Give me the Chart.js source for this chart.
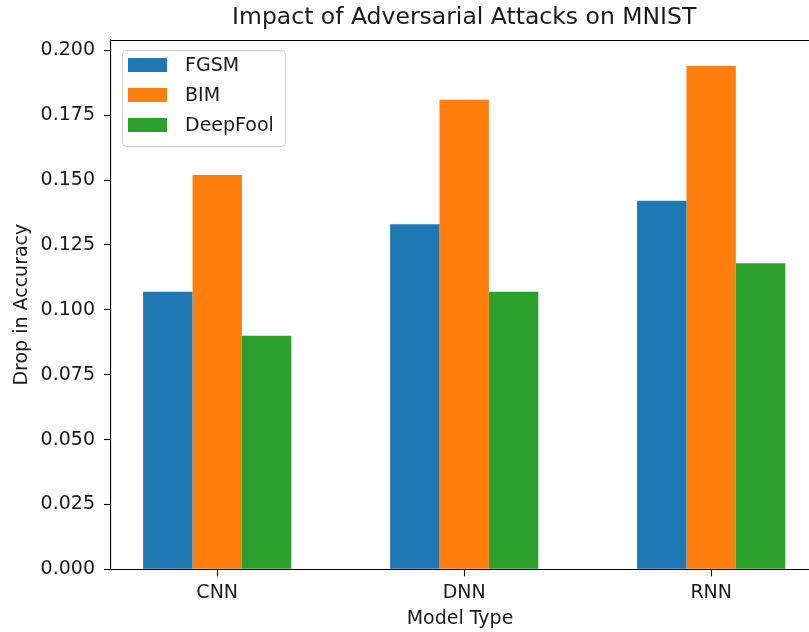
<!DOCTYPE html>
<html>
<head>
<meta charset="utf-8">
<title>Impact of Adversarial Attacks on MNIST</title>
<script src="https://cdn.jsdelivr.net/npm/chart.js@4.4.1/dist/chart.umd.min.js"></script>
<style>
  html, body { margin: 0; padding: 0; background: #ffffff; overflow: hidden; }
  #wrap { width: 809px; height: 632px; }
</style>
</head>
<body>
<div id="wrap"><canvas id="chart" width="809" height="632"></canvas></div>
<script>
// Model types on the x axis
const categories = ['CNN', 'DNN', 'RNN'];
// Drop in accuracy per attack
const fgsm = [0.107, 0.133, 0.142];
const bim = [0.152, 0.181, 0.194];
const deepFool = [0.090, 0.107, 0.118];
// Y tick values
const yTicks = [0, 0.025, 0.05, 0.075, 0.1, 0.125, 0.15, 0.175, 0.2];

const FONT = '"DejaVu Sans", "Liberation Sans", sans-serif';
const TEXT = '#1a1a1a';
const LABEL_SIZE = 19;

const toPoints = arr => arr.map((v, i) => ({ x: i, y: v }));

// Top spine, title and a framed legend in the upper-left corner
const framePlugin = {
  id: 'frame',
  afterDraw(chart) {
    const { ctx, chartArea: a } = chart;
    ctx.save();
    ctx.strokeStyle = '#000';
    ctx.lineWidth = 1.1;
    ctx.beginPath();
    ctx.moveTo(a.left, a.top + 0.5);
    ctx.lineTo(a.right, a.top + 0.5);
    ctx.stroke();

    // title centred over the full axes box (which runs past the canvas edge)
    const x = chart.scales.x;
    const axesRight = x.getPixelForValue(2.43);
    ctx.fillStyle = TEXT;
    ctx.font = '23.5px ' + FONT;
    ctx.textAlign = 'center';
    ctx.textBaseline = 'middle';
    ctx.fillText('Impact of Adversarial Attacks on MNIST', (a.left + axesRight) / 2, 18);

    // legend
    const ds = chart.data.datasets;
    ctx.font = LABEL_SIZE + 'px ' + FONT;
    let maxW = 0;
    ds.forEach(d => { maxW = Math.max(maxW, ctx.measureText(d.label).width); });
    const bx = a.left + 11, by = a.top + 10;
    const patchX = bx + 6, patchW = 39, patchH = 14;
    const textX = patchX + patchW + 18;
    const bw = textX + maxW + 11 - bx, bh = 96;
    ctx.beginPath();
    ctx.roundRect(bx + 0.5, by + 0.5, bw, bh, 4);
    ctx.fillStyle = 'rgba(255,255,255,0.8)';
    ctx.fill();
    ctx.strokeStyle = '#d0d0d0';
    ctx.lineWidth = 1;
    ctx.stroke();
    ctx.textAlign = 'left';
    ctx.textBaseline = 'middle';
    ds.forEach((d, i) => {
      const cy = by + 15 + i * 30;
      ctx.fillStyle = d.backgroundColor;
      ctx.fillRect(patchX, cy - patchH / 2, patchW, patchH);
      ctx.fillStyle = TEXT;
      ctx.fillText(d.label, textX, cy + 1);
    });
    ctx.restore();
  }
};

new Chart(document.getElementById('chart'), {
  type: 'bar',
  data: {
    datasets: [
      { label: 'FGSM', data: toPoints(fgsm), backgroundColor: '#1f77b4' },
      { label: 'BIM', data: toPoints(bim), backgroundColor: '#ff7f0e' },
      { label: 'DeepFool', data: toPoints(deepFool), backgroundColor: '#2ca02c' }
    ]
  },
  options: {
    responsive: false,
    animation: false,
    devicePixelRatio: 1,
    layout: { padding: { top: 40, left: 0, right: 0, bottom: 0 } },
    datasets: { bar: { categoryPercentage: 0.6, barPercentage: 1.0, borderWidth: 0 } },
    plugins: {
      legend: { display: false },
      title: { display: false },
      tooltip: { enabled: false }
    },
    scales: {
      x: {
        type: 'linear',
        min: -0.43,
        max: 2.396,
        offset: false,
        afterBuildTicks: s => { s.ticks = categories.map((c, i) => ({ value: i })); },
        afterFit: s => { s.height = 62.7; },
        ticks: {
          callback: v => categories[v],
          font: { family: FONT, size: LABEL_SIZE },
          color: TEXT,
          padding: 5,
          maxRotation: 0,
          autoSkip: false
        },
        grid: { offset: false, drawOnChartArea: false, drawTicks: true, tickLength: 7, tickColor: '#000', tickWidth: 1.1 },
        border: { display: true, color: '#000', width: 1.1 },
        title: {
          display: true,
          text: 'Model Type',
          font: { family: FONT, size: LABEL_SIZE },
          color: TEXT,
          padding: { top: 0, bottom: 1.5 }
        }
      },
      y: {
        min: 0,
        max: 0.204,
        afterBuildTicks: s => { s.ticks = yTicks.map(v => ({ value: v })); },
        afterFit: s => { s.width = 111; },
        ticks: {
          callback: v => Number(v).toFixed(3),
          font: { family: FONT, size: LABEL_SIZE },
          color: TEXT,
          padding: 9
        },
        grid: { drawOnChartArea: false, drawTicks: true, tickLength: 7, tickColor: '#000', tickWidth: 1.1 },
        border: { display: true, color: '#000', width: 1.1 },
        title: {
          display: true,
          text: 'Drop in Accuracy',
          font: { family: FONT, size: LABEL_SIZE },
          color: TEXT,
          padding: { top: 10.5, bottom: 0 }
        }
      }
    }
  },
  plugins: [framePlugin]
});
</script>
</body>
</html>
